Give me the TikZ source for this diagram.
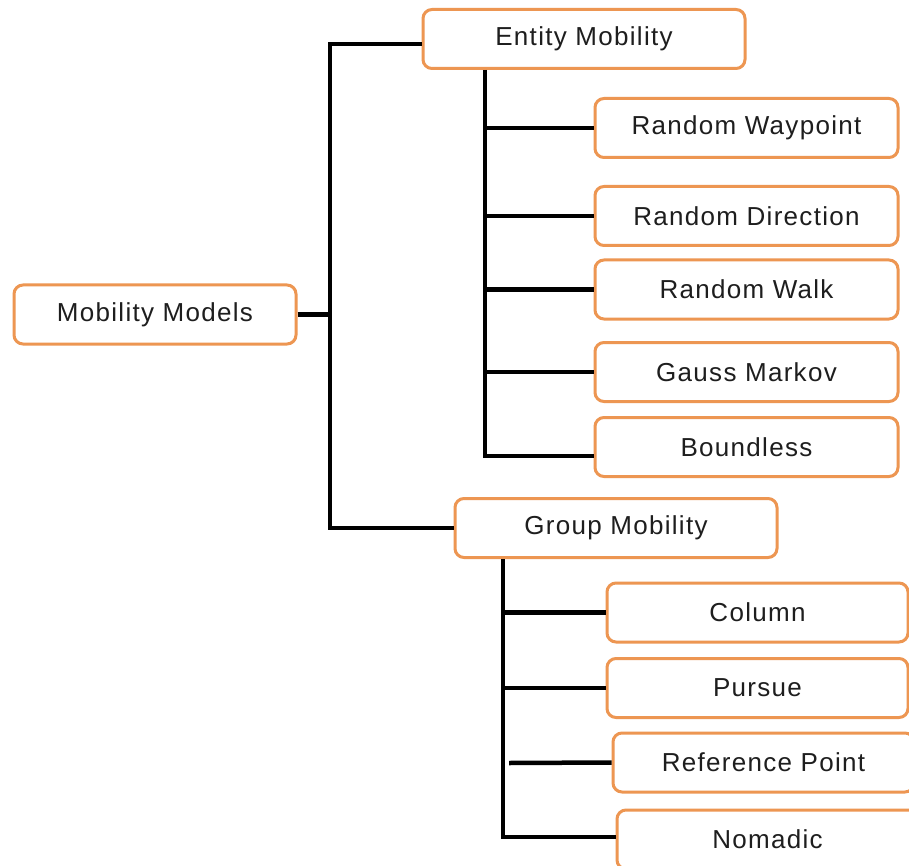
\documentclass[tikz,border=0pt]{standalone}
\usepackage{fontspec}
\setmainfont[LetterSpace=5]{Liberation Sans}
\definecolor{boxorange}{RGB}{237,150,82}
\definecolor{txtgray}{RGB}{30,30,30}
\begin{document}
\begin{tikzpicture}[x=1pt,y=-1pt,
  box/.style={draw=boxorange, line width=3pt, fill=white, rounded corners=9pt,
    minimum height=59pt, inner sep=0pt, text=txtgray,
    font=\fontsize{26}{30}\selectfont},
  conn/.style={draw=black, line width=4.5pt, line join=miter, line cap=butt}]
\useasboundingbox[fill=white] (0,0) rectangle (909,866);

\node[box, minimum width=282pt] (mm) at (155,314.5) {Mobility Models};
\node[box, minimum width=322pt] (em) at (584,39) {Entity Mobility};
\node[box, minimum width=303pt] (rw) at (746.5,128) {Random Waypoint};
\node[box, minimum width=303pt] (rd) at (746.5,216) {Random Direction};
\node[box, minimum width=303pt] (rwk) at (746.5,289.5) {Random Walk};
\node[box, minimum width=303pt] (gmk) at (746.5,372) {Gauss Markov};
\node[box, minimum width=303pt] (bl) at (746.5,447) {Boundless};
\node[box, minimum width=322pt] (gpm) at (616,528) {Group Mobility};
\node[box, minimum width=301pt] (col) at (757.5,612.5) {Column};
\node[box, minimum width=301pt] (pur) at (757.5,688) {Pursue};
\node[box, minimum width=301pt] (rp) at (763.5,762.5) {Reference Point};
\node[box, minimum width=301pt] (nom) at (767.5,839.5) {Nomadic};

\coordinate (ja) at (330,44);
\coordinate (jb) at (330,528);
\coordinate (ea) at (485,456);
\coordinate (ga) at (503,837);
\coordinate (rps) at (509,763);

\draw[conn] (mm.east) -- (mm.east -| ja);
\draw[conn] (em.west |- ja) -- (ja) -- (jb) -- (gpm.west |- jb);
\draw[conn] (em.south -| ea) -- (ea) -- (bl.west |- ea);
\draw[conn] (ea |- rw.west) -- (rw.west);
\draw[conn] (ea |- rd.west) -- (rd.west);
\draw[conn] (ea |- rwk.west) -- (rwk.west);
\draw[conn] (ea |- gmk.west) -- (gmk.west);
\draw[conn] (gpm.south -| ga) -- (ga) -- (nom.west |- ga);
\draw[conn] (ga |- col.west) -- (col.west);
\draw[conn] (ga |- pur.west) -- (pur.west);
\draw[conn] (rps) -- (rp.west);
\end{tikzpicture}
\end{document}
